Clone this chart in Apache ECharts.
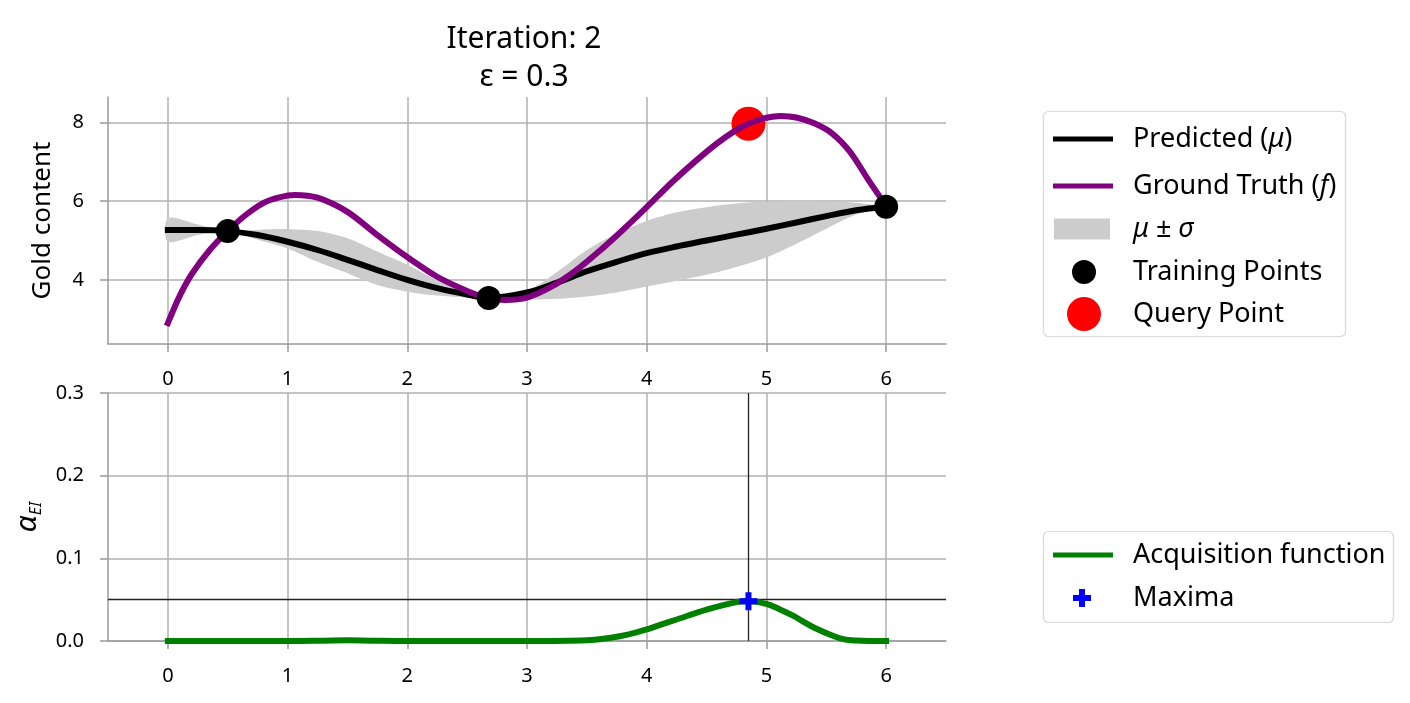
<!DOCTYPE html>
<html><head><meta charset="utf-8">
<script src="https://cdn.jsdelivr.net/npm/echarts@6/dist/echarts.min.js"></script>
<style>html,body{margin:0;padding:0;background:#fff}#c{width:1410px;height:703px}</style>
</head><body><div id="c"></div>
<script>
// ---- data ----
const xTicks = [0, 1, 2, 3, 4, 5, 6];
const goldTicks = [4, 6, 8];
const acqTicks = [0, 0.1, 0.2, 0.3];

const truthX = [0, 0.1, 0.2, 0.35, 0.5, 0.65, 0.8, 0.93, 1.06, 1.25, 1.5, 1.75, 2.0, 2.25, 2.5, 2.65, 2.82, 3.0, 3.2, 3.4, 3.6, 3.8, 4.0, 4.2, 4.4, 4.6, 4.8, 4.97, 5.12, 5.25, 5.4, 5.55, 5.7, 5.85, 6.0];
const truthY = [2.9, 3.6, 4.15, 4.76, 5.24, 5.65, 5.96, 6.1, 6.16, 6.09, 5.73, 5.14, 4.58, 4.08, 3.72, 3.56, 3.49, 3.55, 3.82, 4.22, 4.72, 5.27, 5.85, 6.45, 7.0, 7.5, 7.9, 8.1, 8.17, 8.13, 7.98, 7.72, 7.25, 6.55, 5.88];

const meanX = [0, 0.25, 0.5, 0.75, 1.0, 1.25, 1.5, 1.75, 2.0, 2.25, 2.5, 2.68, 3.0, 3.25, 3.5, 3.75, 4.0, 4.25, 4.5, 4.75, 5.0, 5.25, 5.5, 5.75, 6.0];
const meanY = [5.27, 5.27, 5.24, 5.14, 4.97, 4.76, 4.51, 4.25, 4.0, 3.79, 3.63, 3.54, 3.68, 3.93, 4.22, 4.46, 4.68, 4.85, 5.0, 5.15, 5.3, 5.46, 5.62, 5.77, 5.86];

const bandX = [0, 0.25, 0.5, 0.75, 1.0, 1.25, 1.5, 1.75, 2.0, 2.25, 2.5, 2.68, 3.0, 3.25, 3.5, 3.75, 4.0, 4.25, 4.5, 4.75, 5.0, 5.25, 5.5, 5.75, 6.0];
const bandLower = [4.97, 5.14, 5.24, 5.02, 4.80, 4.46, 4.17, 3.87, 3.70, 3.60, 3.55, 3.54, 3.50, 3.52, 3.58, 3.68, 3.83, 3.98, 4.13, 4.33, 4.57, 4.92, 5.30, 5.66, 5.86];
const bandUpper = [5.57, 5.41, 5.24, 5.27, 5.29, 5.24, 5.06, 4.72, 4.38, 4.00, 3.74, 3.54, 3.72, 4.20, 4.76, 5.18, 5.50, 5.72, 5.85, 5.94, 5.99, 6.00, 5.99, 5.96, 5.86];

const trainX = [0.5, 2.68, 6.0];
const trainY = [5.24, 3.54, 5.86];
const queryX = [4.85];
const queryY = [7.97];

const acqX = [0, 0.5, 1.0, 1.3, 1.5, 1.7, 2.0, 2.5, 3.0, 3.5, 3.7, 3.85, 4.0, 4.1, 4.25, 4.5, 4.75, 4.85, 5.0, 5.1, 5.23, 5.3, 5.4, 5.56, 5.65, 5.75, 5.85, 6.0];
const acqY = [0, 0, 0, 0.0004, 0.0008, 0.0004, 0, 0, 0, 0.001, 0.004, 0.008, 0.014, 0.019, 0.026, 0.038, 0.047, 0.048, 0.045, 0.039, 0.030, 0.024, 0.016, 0.006, 0.002, 0.0005, 0, 0];
const maximaX = [4.85];
const maximaY = [0.048];

// ---- build ----
const F = 'Noto Sans';
const zip = (xs, ys) => xs.map((x, i) => [x, ys[i]]);
const gridColor = '#b0b0b0';
const spineColor = '#9a9a9a';

function xAxisFor(gi) {
  return {
    type: 'value', gridIndex: gi, min: -0.5, max: 6.5,
    axisLine: {show: true, onZero: false, lineStyle: {color: spineColor, width: 1.5}},
    axisTick: {show: true, customValues: xTicks, length: 8, lineStyle: {color: spineColor, width: 1.5}},
    axisLabel: {customValues: xTicks, margin: 25, color: '#000', fontSize: 20, fontFamily: F, formatter: v => String(v)},
    splitLine: {show: true, lineStyle: {color: gridColor, width: 1.5}}
  };
}

const labels = {
  'Predicted': '{sp| }{n|Predicted (}{i|μ}{n|)}',
  'Ground Truth': '{sp| }{n|Ground Truth (}{i|f}{n|)}',
  'band': '{sp| }{i|μ}{n| ± }{i|σ}',
  'Training Points': '{sp| }{n|Training Points}',
  'Query Point': '{sp| }{n|Query Point}',
  'Acquisition function': '{sp| }{n|Acquisition function}',
  'Maxima': '{sp| }{n|Maxima}'
};
function leg(name, top, left, w, h, icon, spacer) {
  return {
    data: [{name: name, icon: icon}], top: top, left: left, itemWidth: w, itemHeight: h,
    padding: 0, selectedMode: false, formatter: () => labels[name],
    textStyle: {fontFamily: F, fontSize: 26, color: '#000', lineHeight: 30,
      rich: {
        sp: {width: spacer, fontSize: 26, lineHeight: 30},
        n: {fontSize: 27, fontFamily: F, color: '#000', lineHeight: 30},
        i: {fontSize: 27, fontFamily: F, fontStyle: 'italic', color: '#000', lineHeight: 30}
      }}
  };
}
const plusPath = 'path://M8,0H16V8H24V16H16V24H8V16H0V8H8Z';

const option = {
  backgroundColor: '#fff',
  animation: false,
  title: {
    text: 'Iteration: 2\nε = 0.3', left: 519, top: 15, textAlign: 'center',
    textStyle: {fontFamily: F, fontSize: 30, fontWeight: 'normal', color: '#000', lineHeight: 38}
  },
  grid: [
    {left: 108, top: 97, width: 838, height: 247},
    {left: 108, top: 393, width: 838, height: 248}
  ],
  xAxis: [xAxisFor(0), xAxisFor(1)],
  yAxis: [
    {
      type: 'value', gridIndex: 0, min: 2.37, max: 8.65,
      name: 'Gold content', nameLocation: 'middle', nameGap: 52,
      nameTextStyle: {fontFamily: F, fontSize: 26, color: '#000'},
      axisLine: {show: true, onZero: false, lineStyle: {color: spineColor, width: 1.5}},
      axisTick: {show: true, customValues: goldTicks, length: 8, lineStyle: {color: spineColor, width: 1.5}},
      axisLabel: {customValues: goldTicks, margin: 24, color: '#000', fontSize: 20, fontFamily: F},
      splitLine: {show: true, lineStyle: {color: gridColor, width: 1.5}}
    },
    {
      type: 'value', gridIndex: 1, min: 0, max: 0.3, interval: 0.1,
      name: '{a|α}{s|EI}', nameLocation: 'middle', nameGap: 64,
      nameTextStyle: {rich: {
        a: {fontFamily: F, fontSize: 30, fontStyle: 'italic', color: '#000', verticalAlign: 'top', lineHeight: 32},
        s: {fontFamily: F, fontSize: 16, fontStyle: 'italic', color: '#000', verticalAlign: 'bottom', lineHeight: 16, padding: [16, 0, 0, 0]}
      }},
      axisLine: {show: true, onZero: false, lineStyle: {color: spineColor, width: 1.5}},
      axisTick: {show: true, length: 8, lineStyle: {color: spineColor, width: 1.5}},
      axisLabel: {margin: 24, color: '#000', fontSize: 20, fontFamily: F, formatter: v => v.toFixed(1)},
      splitLine: {show: true, lineStyle: {color: gridColor, width: 1.5}}
    }
  ],
  legend: [
    leg('Predicted', 124, 1053, 60, 5, 'rect', 15),
    leg('Ground Truth', 171, 1053, 60, 5, 'rect', 15),
    leg('band', 214, 1054, 56, 21, 'rect', 18),
    leg('Training Points', 257, 1072, 24, 24, 'circle', 32),
    leg('Query Point', 297, 1067, 34, 34, 'circle', 27),
    leg('Acquisition function', 540, 1053, 60, 5, 'rect', 15),
    leg('Maxima', 583, 1073, 18, 18, plusPath, 37)
  ],
  graphic: [
    {type: 'rect', shape: {x: 1043.5, y: 111.5, width: 302, height: 225, r: 5}, style: {fill: '#fff', stroke: '#d9d9d9', lineWidth: 1.2}, z: -10},
    {type: 'rect', shape: {x: 1043.5, y: 531.5, width: 350, height: 91, r: 5}, style: {fill: '#fff', stroke: '#d9d9d9', lineWidth: 1.2}, z: -10}
  ],
  series: [
    {
      name: 'band', type: 'custom', xAxisIndex: 0, yAxisIndex: 0, z: 1, silent: true,
      itemStyle: {color: '#cccccc'},
      data: [[bandX[0], bandLower[0]]],
      renderItem: function (params, api) {
        const pts = [];
        for (let i = 0; i < bandX.length; i++) pts.push(api.coord([bandX[i], bandUpper[i]]));
        for (let i = bandX.length - 1; i >= 0; i--) pts.push(api.coord([bandX[i], bandLower[i]]));
        return {type: 'polygon', shape: {points: pts, smooth: 0.3}, style: {fill: '#cccccc'}};
      }
    },
    {
      name: 'Predicted', type: 'line', xAxisIndex: 0, yAxisIndex: 0, z: 2,
      data: zip(meanX, meanY), smooth: 0.35, showSymbol: false, color: '#000',
      lineStyle: {color: '#000', width: 6, cap: 'square'}
    },
    {
      name: 'Query Point', type: 'scatter', xAxisIndex: 0, yAxisIndex: 0, z: 3,
      data: zip(queryX, queryY), symbol: 'circle', symbolSize: 34, itemStyle: {color: '#ff0000', opacity: 1}
    },
    {
      name: 'Ground Truth', type: 'line', xAxisIndex: 0, yAxisIndex: 0, z: 4,
      data: zip(truthX, truthY), smooth: 0.3, showSymbol: false, color: '#800080',
      lineStyle: {color: '#800080', width: 6, cap: 'square'}
    },
    {
      name: 'Training Points', type: 'scatter', xAxisIndex: 0, yAxisIndex: 0, z: 5,
      data: zip(trainX, trainY), symbol: 'circle', symbolSize: 24, itemStyle: {color: '#000', opacity: 1}
    },
    {
      name: 'Acquisition function', type: 'line', xAxisIndex: 1, yAxisIndex: 1, z: 3,
      data: zip(acqX, acqY), smooth: 0.35, showSymbol: false, color: '#008000',
      lineStyle: {color: '#008000', width: 6, cap: 'square'},
      markLine: {
        silent: true, symbol: 'none', label: {show: false}, z: 2,
        lineStyle: {color: '#222', width: 1.3, type: 'solid'},
        data: [{yAxis: maximaY[0]}, {xAxis: maximaX[0]}]
      }
    },
    {
      name: 'Maxima', type: 'scatter', xAxisIndex: 1, yAxisIndex: 1, z: 6,
      data: zip(maximaX, maximaY), symbol: plusPath, symbolSize: 18, itemStyle: {color: '#0000ff', opacity: 1}
    }
  ]
};
const chart = echarts.init(document.getElementById('c'), null, {renderer: 'canvas'});
chart.setOption(option);
</script>
</body></html>
